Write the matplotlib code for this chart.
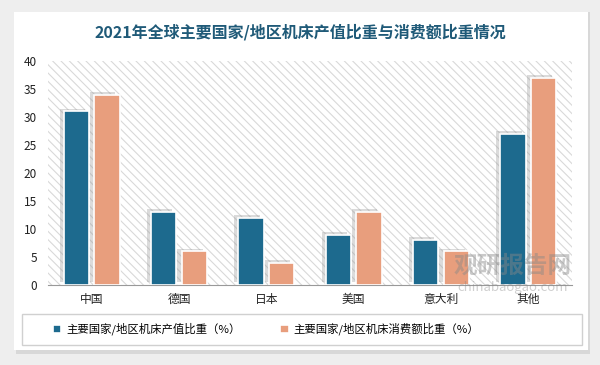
import matplotlib.pyplot as plt
import matplotlib.patheffects as pe
from matplotlib.patches import Rectangle
import numpy as np

plt.rcParams['font.family'] = ['Noto Sans CJK SC', 'DejaVu Sans']
plt.rcParams['hatch.linewidth'] = 0.8

categories = ['中国', '德国', '日本', '美国', '意大利', '其他']
production = [31, 13, 12, 9, 8, 27]
consumption = [34, 6, 4, 13, 6, 37]
series_names = ['主要国家/地区机床产值比重（%）', '主要国家/地区机床消费额比重（%）']
title = '2021年全球主要国家/地区机床产值比重与消费额比重情况'

c_blue = '#1d6a8e'
c_salmon = '#e89e7d'

fig = plt.figure(figsize=(6, 3.65), dpi=100, facecolor='#eeeeee')

# card with shadow
fig.patches.append(Rectangle((16 / 600, 1 - 354 / 365), 574 / 600, 342 / 365,
                             transform=fig.transFigure, facecolor='#d8d8d8',
                             edgecolor='none', zorder=-2))
fig.patches.append(Rectangle((14 / 600, 1 - 350 / 365), 574 / 600, 338 / 365,
                             transform=fig.transFigure, facecolor='white',
                             edgecolor='none', zorder=-1))
# legend frame
fig.patches.append(Rectangle((22 / 600, 1 - 345 / 365), 560 / 600, 31 / 365,
                             transform=fig.transFigure, facecolor='white',
                             edgecolor='#d0d0d0', linewidth=1, zorder=0))

ax = fig.add_axes([48 / 600, 1 - 285 / 365, 524 / 600, 224 / 365])
ax.set_zorder(2)
ax.set_facecolor('none')
ax.add_patch(Rectangle((0, 0), 1, 1, transform=ax.transAxes, facecolor='white',
                       edgecolor='#d9d9d9', hatch='\\\\\\\\', linewidth=0, zorder=0))

x = np.arange(len(categories))
w = 0.29
shadow = [pe.SimplePatchShadow(offset=(-3, 2), shadow_rgbFace='#999999', alpha=0.35), pe.Normal()]
b1 = ax.bar(x - w / 2 - 0.03, production, w, color=c_blue, edgecolor='white',
            linewidth=1.2, zorder=3, label=series_names[0])
b2 = ax.bar(x + w / 2 + 0.03, consumption, w, color=c_salmon, edgecolor='white',
            linewidth=1.2, zorder=3, label=series_names[1])
for b in list(b1) + list(b2):
    b.set_path_effects(shadow)

ax.set_xlim(-0.5, len(categories) - 0.5)
ax.set_ylim(0, 40)
ax.set_yticks(range(0, 41, 5))
ax.set_xticks(x)
ax.set_xticklabels(categories)
ax.tick_params(axis='both', length=0, labelsize=8.5, colors='#222222')
ax.tick_params(axis='x', pad=6)
ax.tick_params(axis='y', pad=8)
for s in ['top', 'right', 'left']:
    ax.spines[s].set_visible(False)
ax.spines['bottom'].set_color('#999999')

fig.text(0.5, 1 - 32 / 365, title, ha='center', va='center', fontsize=11.5,
         fontweight='bold', color='#1f5a78')

# watermark
fig.text(0.855, 1 - 266 / 365, '观研报告网', ha='center', va='center', fontsize=17,
         fontweight='bold', color='#888888', alpha=0.45, zorder=5)
fig.text(0.855, 1 - 288 / 365, 'chinabaogao.com', ha='center', va='center', fontsize=9.5,
         color='#888888', alpha=0.4, zorder=5)

leg = fig.legend(handles=[b1, b2], loc='center', bbox_to_anchor=(266 / 600, 1 - 329 / 365),
                 ncol=2, frameon=False, fontsize=8.2, handlelength=0.75, handleheight=0.75,
                 handletextpad=0.4, columnspacing=3.5)
for h in leg.legend_handles:
    h.set_path_effects([])

fig.savefig('out.png', dpi=100, facecolor=fig.get_facecolor())
